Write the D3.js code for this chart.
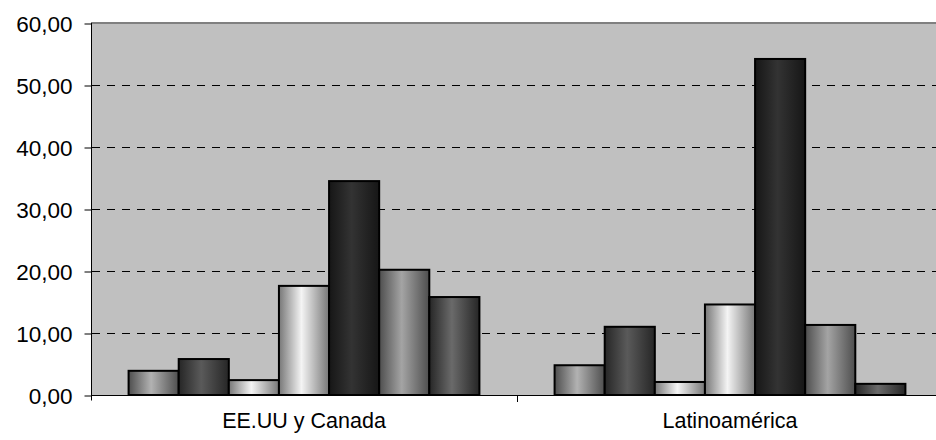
<!DOCTYPE html>
<html>
<head>
<meta charset="utf-8">
<script src="https://cdn.jsdelivr.net/npm/d3@7/dist/d3.min.js"></script>
<style>
  body { margin: 0; background: #fff; }
  text { font-family: "Liberation Sans", Arial, sans-serif; fill: #000; }
</style>
</head>
<body>
<svg id="chart" width="936" height="440"></svg>
<script>
// categories and series values
var categories = ["EE.UU y Canada", "Latinoamérica"];
var series = ["s1", "s2", "s3", "s4", "s5", "s6", "s7"];
var valuesUSCanada = [3.9, 5.8, 2.4, 17.6, 34.5, 20.2, 15.8];
var valuesLatam = [4.8, 11.0, 2.1, 14.6, 54.2, 11.3, 1.8];
var yTicks = [0, 10, 20, 30, 40, 50, 60];

// edge / center shades of each series (cylinder-like gradient)
var edgeColors = ["#4e4e4e", "#262626", "#777777", "#777777", "#161616", "#4e4e4e", "#262626"];
var centerColors = ["#b2b2b2", "#5a5a5a", "#f4f4f4", "#f4f4f4", "#333333", "#a4a4a4", "#6a6a6a"];

var data = categories.map(function(c, i) {
    return { cat: c, values: [valuesUSCanada, valuesLatam][i] };
});

var svg = d3.select("#chart"),
    plotLeft = 91, plotTop = 23, plotRight = 943, plotBottom = 395;

var x0 = d3.scaleBand().domain(categories).range([plotLeft, plotRight]).padding(0);
var x1 = d3.scaleBand().domain(series).range([0, x0.bandwidth()]).paddingInner(0).paddingOuter(0.75);
var y = d3.scaleLinear().domain([0, 60]).range([plotBottom, plotTop]);

var defs = svg.append("defs");
series.forEach(function(s, i) {
    var g = defs.append("linearGradient").attr("id", "grad" + i)
        .attr("x1", "0%").attr("x2", "100%").attr("y1", "0%").attr("y2", "0%");
    g.append("stop").attr("offset", "0%").attr("stop-color", edgeColors[i]);
    g.append("stop").attr("offset", "45%").attr("stop-color", centerColors[i]);
    g.append("stop").attr("offset", "100%").attr("stop-color", edgeColors[i]);
});

// plot area
svg.append("rect")
    .attr("x", plotLeft).attr("y", plotTop)
    .attr("width", 936 - plotLeft).attr("height", plotBottom - plotTop)
    .attr("fill", "#c0c0c0");
svg.append("line")
    .attr("x1", plotLeft).attr("x2", 936).attr("y1", plotTop).attr("y2", plotTop)
    .attr("stroke", "#808080").attr("stroke-width", 2);

// dashed gridlines
svg.append("g").selectAll("line")
    .data(yTicks.filter(function(d) { return d > 0 && d < 60; }))
    .enter().append("line")
    .attr("x1", plotLeft + 1).attr("x2", plotRight)
    .attr("y1", function(d) { return y(d) + 0.5; })
    .attr("y2", function(d) { return y(d) + 0.5; })
    .attr("stroke", "#000").attr("stroke-dasharray", "8,7");

// bars
svg.append("g").selectAll("g")
    .data(data)
    .enter().append("g")
    .attr("transform", function(d) { return "translate(" + x0(d.cat) + ",0)"; })
    .selectAll("rect")
    .data(function(d) { return d.values; })
    .enter().append("rect")
    .attr("x", function(d, i) { return x1(series[i]); })
    .attr("y", function(d) { return y(d); })
    .attr("width", x1.bandwidth())
    .attr("height", function(d) { return plotBottom - y(d); })
    .attr("fill", function(d, i) { return "url(#grad" + i + ")"; })
    .attr("stroke", "#000").attr("stroke-width", 2);

// y axis
var yAxis = svg.append("g")
    .attr("transform", "translate(" + (plotLeft + 0.5) + ",0.5)")
    .call(d3.axisLeft(y).tickValues(yTicks).tickSize(7).tickPadding(12)
        .tickFormat(function(d) { return d3.format(".2f")(d).replace(".", ","); }));
yAxis.select(".domain").attr("d", "M0," + (plotTop - 0.5) + "V" + (plotBottom + 5));
yAxis.selectAll("text").style("font-size", "22.5px").attr("dy", "0.35em");

// x axis
var xAxis = svg.append("g")
    .attr("transform", "translate(0," + (plotBottom + 0.5) + ")")
    .call(d3.axisBottom(x0).tickSize(0).tickPadding(17));
xAxis.select(".domain").attr("d", "M" + plotLeft + ",0H" + 936).attr("stroke", "#000");
xAxis.selectAll("text").style("font-size", "21.5px");
svg.append("line")
    .attr("x1", x0(categories[1]) + 0.5).attr("x2", x0(categories[1]) + 0.5)
    .attr("y1", plotBottom).attr("y2", plotBottom + 7)
    .attr("stroke", "#000");
</script>
</body>
</html>
